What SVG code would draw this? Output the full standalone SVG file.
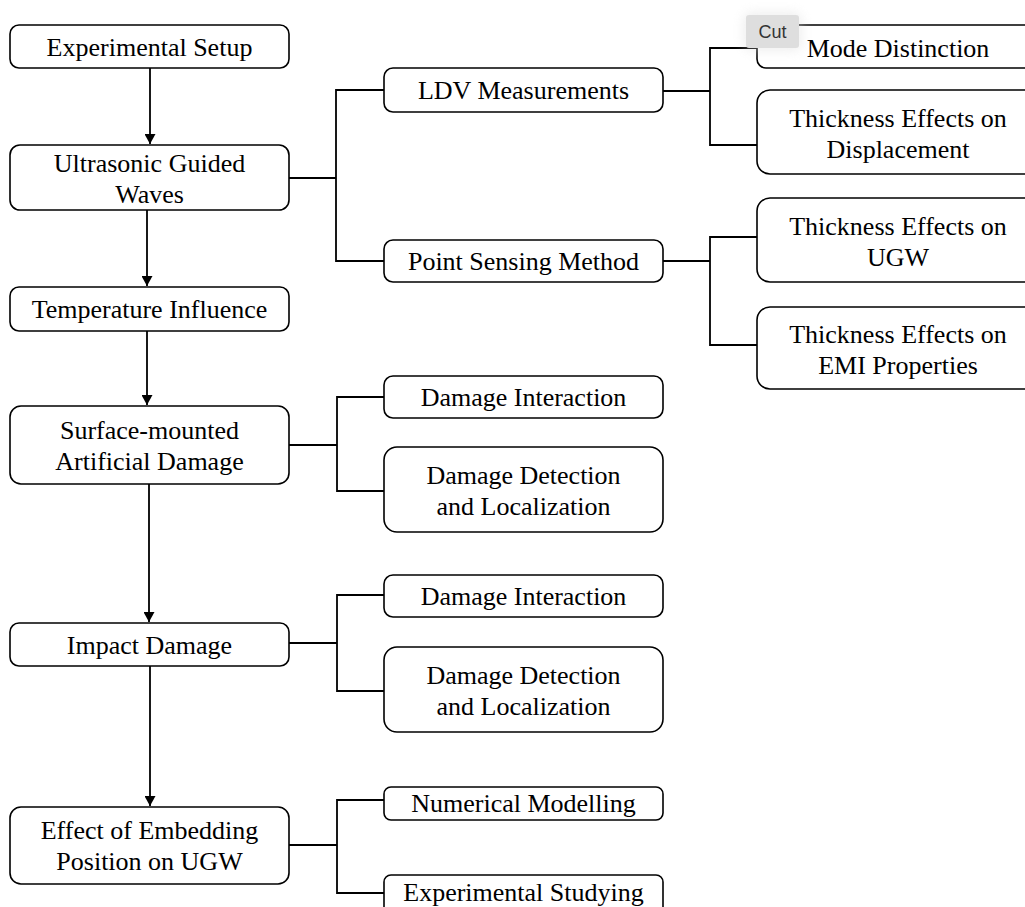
<svg xmlns="http://www.w3.org/2000/svg" width="1025" height="907" viewBox="0 0 1025 907">
  <style>
    .box { fill: #ffffff; stroke: #000000; stroke-width: 1.6; }
    .lbl { font-family: "Liberation Serif", "Times New Roman", serif; font-size: 26px; fill: #000000; text-anchor: middle; }
    .wire { fill: none; stroke: #000000; stroke-width: 1.8; }
    .tip { font-family: "Liberation Sans", Arial, sans-serif; font-size: 18px; fill: #333333; text-anchor: middle; }
  </style>
  <defs>
    <marker id="arrow" markerUnits="userSpaceOnUse" markerWidth="11" markerHeight="11" refX="10" refY="5.5" orient="auto">
      <path d="M0,0 L10,5.5 L0,11 z" fill="#000000"/>
    </marker>
    <filter id="halo" x="-50%" y="-50%" width="200%" height="200%">
      <feGaussianBlur stdDeviation="6"/>
    </filter>
  </defs>

  <rect width="1025" height="907" fill="#ffffff"/>

  <!-- connectors -->
  <g id="connectors">
    <!-- main chain -->
    <path class="wire" d="M150,68 V144" marker-end="url(#arrow)"/>
    <path class="wire" d="M147,210 V286" marker-end="url(#arrow)"/>
    <path class="wire" d="M147,331 V405" marker-end="url(#arrow)"/>
    <path class="wire" d="M149,484 V622" marker-end="url(#arrow)"/>
    <path class="wire" d="M150,666 V806" marker-end="url(#arrow)"/>
    <!-- ultrasonic guided waves branch -->
    <path class="wire" d="M289,178 H336"/>
    <path class="wire" d="M384,90 H336 V261 H384"/>
    <!-- LDV branch -->
    <path class="wire" d="M663,91 H710"/>
    <path class="wire" d="M757,48 H710 V145 H757"/>
    <!-- point sensing branch -->
    <path class="wire" d="M663,261 H710"/>
    <path class="wire" d="M757,237 H710 V345 H757"/>
    <!-- surface-mounted damage branch -->
    <path class="wire" d="M289,445 H337"/>
    <path class="wire" d="M384,397 H337 V491 H384"/>
    <!-- impact damage branch -->
    <path class="wire" d="M289,643 H337"/>
    <path class="wire" d="M384,595 H337 V691 H384"/>
    <!-- embedding position branch -->
    <path class="wire" d="M289,845 H337"/>
    <path class="wire" d="M384,800 H337 V893 H384"/>
  </g>

  <!-- main chain -->
  <g id="experimental-setup">
    <rect class="box" x="10" y="25" width="279" height="43" rx="9"/>
    <text class="lbl" x="149.5" y="56">Experimental Setup</text>
  </g>
  <g id="ultrasonic-guided-waves">
    <rect class="box" x="10" y="145" width="279" height="65" rx="10"/>
    <text class="lbl" x="149.5" y="172">Ultrasonic Guided</text>
    <text class="lbl" x="149.5" y="203">Waves</text>
  </g>
  <g id="temperature-influence">
    <rect class="box" x="10" y="287" width="279" height="44" rx="9"/>
    <text class="lbl" x="149.5" y="318">Temperature Influence</text>
  </g>
  <g id="surface-mounted-damage">
    <rect class="box" x="10" y="406" width="279" height="78" rx="11"/>
    <text class="lbl" x="149.5" y="439">Surface-mounted</text>
    <text class="lbl" x="149.5" y="470">Artificial Damage</text>
  </g>
  <g id="impact-damage">
    <rect class="box" x="10" y="623" width="279" height="43" rx="9"/>
    <text class="lbl" x="149.5" y="654">Impact Damage</text>
  </g>
  <g id="embedding-position">
    <rect class="box" x="10" y="807" width="279" height="77" rx="11"/>
    <text class="lbl" x="149.5" y="839">Effect of Embedding</text>
    <text class="lbl" x="149.5" y="870">Position on UGW</text>
  </g>

  <!-- second level -->
  <g id="ldv-measurements">
    <rect class="box" x="384" y="68" width="279" height="44" rx="9"/>
    <text class="lbl" x="523.5" y="99">LDV Measurements</text>
  </g>
  <g id="point-sensing-method">
    <rect class="box" x="384" y="240" width="279" height="42" rx="9"/>
    <text class="lbl" x="523.5" y="270">Point Sensing Method</text>
  </g>
  <g id="damage-interaction-1">
    <rect class="box" x="384" y="376" width="279" height="42" rx="9"/>
    <text class="lbl" x="523.5" y="406">Damage Interaction</text>
  </g>
  <g id="damage-detection-1">
    <rect class="box" x="384" y="447" width="279" height="85" rx="13"/>
    <text class="lbl" x="523.5" y="484">Damage Detection</text>
    <text class="lbl" x="523.5" y="515">and Localization</text>
  </g>
  <g id="damage-interaction-2">
    <rect class="box" x="384" y="575" width="279" height="42" rx="9"/>
    <text class="lbl" x="523.5" y="605">Damage Interaction</text>
  </g>
  <g id="damage-detection-2">
    <rect class="box" x="384" y="647" width="279" height="85" rx="13"/>
    <text class="lbl" x="523.5" y="684">Damage Detection</text>
    <text class="lbl" x="523.5" y="715">and Localization</text>
  </g>
  <g id="numerical-modelling">
    <rect class="box" x="384" y="787" width="279" height="33" rx="7"/>
    <text class="lbl" x="523.5" y="812">Numerical Modelling</text>
  </g>
  <g id="experimental-studying">
    <rect class="box" x="384" y="875" width="279" height="42" rx="7"/>
    <text class="lbl" x="523.5" y="901">Experimental Studying</text>
  </g>

  <!-- third level -->
  <g id="mode-distinction">
    <rect class="box" x="757" y="25" width="282" height="43" rx="9"/>
    <text class="lbl" x="898" y="57">Mode Distinction</text>
  </g>
  <g id="thickness-displacement">
    <rect class="box" x="757" y="90" width="282" height="84" rx="13"/>
    <text class="lbl" x="898" y="127">Thickness Effects on</text>
    <text class="lbl" x="898" y="158">Displacement</text>
  </g>
  <g id="thickness-ugw">
    <rect class="box" x="757" y="198" width="282" height="84" rx="13"/>
    <text class="lbl" x="898" y="235">Thickness Effects on</text>
    <text class="lbl" x="898" y="266">UGW</text>
  </g>
  <g id="thickness-emi">
    <rect class="box" x="757" y="307" width="282" height="82" rx="13"/>
    <text class="lbl" x="898" y="343">Thickness Effects on</text>
    <text class="lbl" x="898" y="374">EMI Properties</text>
  </g>

  <!-- context-menu tooltip -->
  <g id="cut-tooltip">
    <rect x="744" y="13" width="57" height="37" rx="6" fill="#d8d8d8" opacity="0.45" filter="url(#halo)"/>
    <rect x="746" y="15" width="53" height="33" rx="3" fill="#dedede"/>
    <text class="tip" x="772.5" y="38">Cut</text>
  </g>
</svg>
